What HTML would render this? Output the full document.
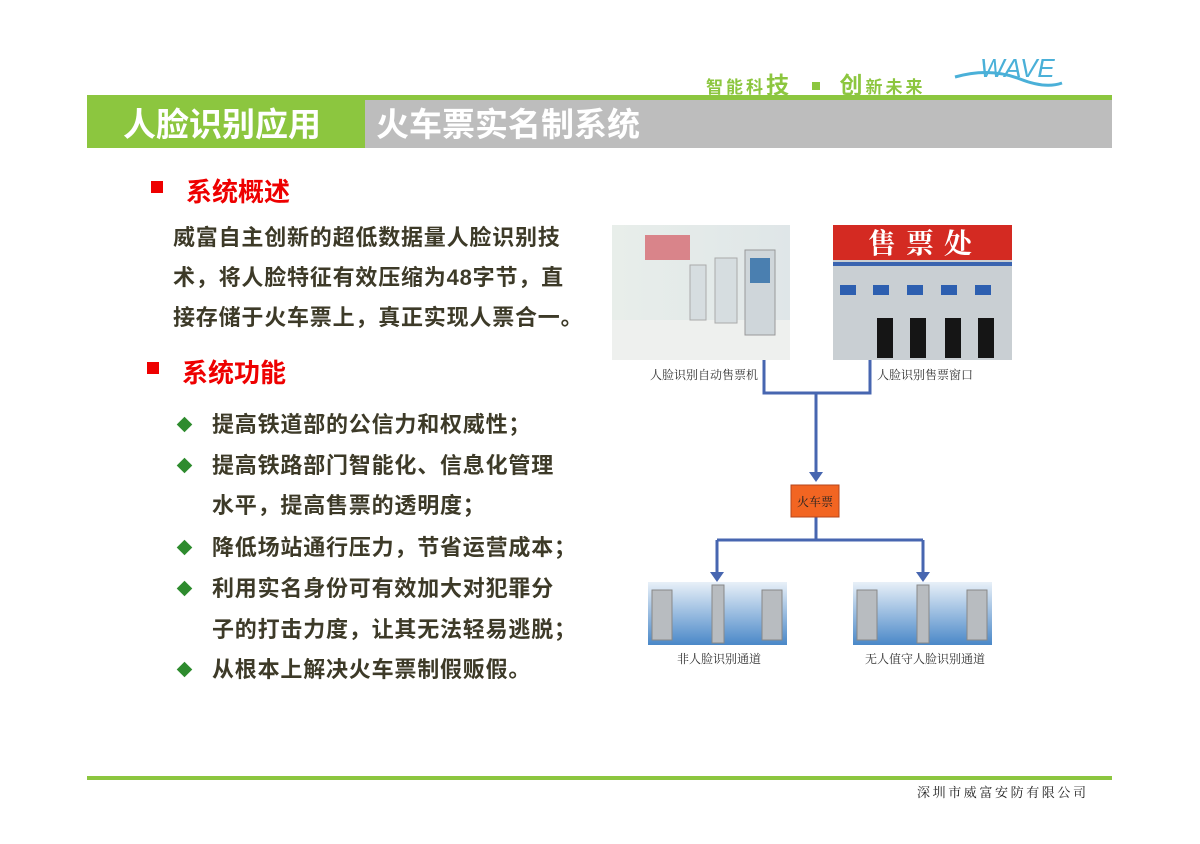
<!DOCTYPE html>
<html><head><meta charset="utf-8">
<style>
body{margin:0;width:1200px;height:844px;background:#fff;position:relative;overflow:hidden;font-family:"Liberation Sans","Noto Sans CJK SC","WenQuanYi Zen Hei",sans-serif}
.a{position:absolute;white-space:nowrap}
.t{color:#3d3a28;font-size:22px;font-weight:bold;line-height:26px;letter-spacing:0.8px}
.d{position:absolute;width:11px;height:11px;background:#2e8b2e;transform:rotate(45deg)}
.lab{position:absolute;font-family:"Noto Serif CJK SC",serif;font-size:12px;color:#333;white-space:nowrap}
</style></head><body>
<div class="a" style="left:706px;top:66px;color:#8cc63f;font-weight:bold;font-size:17px;letter-spacing:3px">智能科<span style="font-size:23px">技</span> <span style="display:inline-block;width:8px;height:8px;background:#8cc63f;margin:0 12px 3px"></span> <span style="font-size:23px">创</span>新未来</div>
<svg class="a" style="left:950px;top:55px" width="120" height="40"><path d="M5 22 Q40 12 70 24 Q95 34 112 28" stroke="#4ab0d8" stroke-width="3" fill="none"/><text x="30" y="22" font-family="Liberation Sans" font-style="italic" font-size="26" fill="#4ab0d8">WAVE</text></svg>
<div class="a" style="left:87px;top:95px;width:1025px;height:5px;background:#8cc63f"></div>
<div class="a" style="left:87px;top:100px;width:278px;height:48px;background:#8cc63f"></div>
<div class="a" style="left:365px;top:100px;width:747px;height:48px;background:#bdbdbd"></div>
<div class="a" style="left:123px;top:105px;color:#fff;font-size:33px;font-weight:bold;line-height:40px">人脸识别应用</div>
<div class="a" style="left:376px;top:105px;color:#fff;font-size:33px;font-weight:bold;line-height:40px">火车票实名制系统</div>
<div class="a" style="left:151px;top:181px;width:12px;height:12px;background:#e00"></div>
<div class="a" style="left:186px;top:172px;color:#e00;font-size:26px;font-weight:bold">系统概述</div>
<div class="a t" style="left:173px;top:225px">威富自主创新的超低数据量人脸识别技</div>
<div class="a t" style="left:173px;top:265px">术，将人脸特征有效压缩为48字节，直</div>
<div class="a t" style="left:173px;top:305px">接存储于火车票上，真正实现人票合一。</div>
<div class="a" style="left:147px;top:362px;width:12px;height:12px;background:#e00"></div>
<div class="a" style="left:182px;top:353px;color:#e00;font-size:26px;font-weight:bold">系统功能</div>
<div class="d" style="left:179px;top:419px"></div>
<div class="a t" style="left:212px;top:412px">提高铁道部的公信力和权威性；</div>
<div class="d" style="left:179px;top:460px"></div>
<div class="a t" style="left:212px;top:453px">提高铁路部门智能化、信息化管理</div>
<div class="a t" style="left:212px;top:493px">水平，提高售票的透明度；</div>
<div class="d" style="left:179px;top:542px"></div>
<div class="a t" style="left:212px;top:535px">降低场站通行压力，节省运营成本；</div>
<div class="d" style="left:179px;top:583px"></div>
<div class="a t" style="left:212px;top:576px">利用实名身份可有效加大对犯罪分</div>
<div class="a t" style="left:212px;top:617px">子的打击力度，让其无法轻易逃脱；</div>
<div class="d" style="left:179px;top:664px"></div>
<div class="a t" style="left:212px;top:657px">从根本上解决火车票制假贩假。</div>

<svg class="a" style="left:0;top:0" width="1200" height="844">
<defs><linearGradient id="g1" x1="0" y1="0" x2="1" y2="0"><stop offset="0" stop-color="#e8eeea"/><stop offset="1" stop-color="#dfe6e8"/></linearGradient>
<linearGradient id="g2" x1="0" y1="0" x2="0" y2="1"><stop offset="0" stop-color="#e8f0f8"/><stop offset="1" stop-color="#4a88c8"/></linearGradient></defs>
<rect x="612" y="225" width="178" height="135" fill="url(#g1)"/>
<rect x="612" y="320" width="178" height="40" fill="#eef0ee"/>
<rect x="745" y="250" width="30" height="85" fill="#cfd6da" stroke="#999"/>
<rect x="750" y="258" width="20" height="25" fill="#4a7fb0"/>
<rect x="715" y="258" width="22" height="65" fill="#d6dde0" stroke="#aaa"/>
<rect x="690" y="265" width="16" height="55" fill="#d6dde0" stroke="#aaa"/>
<rect x="645" y="235" width="45" height="25" fill="#d9848a"/>
<rect x="833" y="225" width="179" height="135" fill="#c9cfd3"/>
<rect x="833" y="225" width="179" height="35" fill="#d42a22"/>
<text x="868" y="253" font-size="28" font-weight="bold" fill="#fff" font-family="Noto Serif CJK SC,serif" letter-spacing="10">售票处</text>
<rect x="833" y="262" width="179" height="4" fill="#3a64b0"/>
<g fill="#2d5fb0"><rect x="840" y="285" width="16" height="10"/><rect x="873" y="285" width="16" height="10"/><rect x="907" y="285" width="16" height="10"/><rect x="941" y="285" width="16" height="10"/><rect x="975" y="285" width="16" height="10"/></g>
<g fill="#151515"><rect x="877" y="318" width="16" height="40"/><rect x="910" y="318" width="16" height="40"/><rect x="945" y="318" width="16" height="40"/><rect x="978" y="318" width="16" height="40"/></g>
<g stroke="#4766b0" stroke-width="3" fill="none">
<path d="M764 360V393H870V360"/><path d="M816 393V474"/>
<path d="M816 517V540M717 540H923M717 540V574M923 540V574"/>
</g>
<g fill="#4766b0"><path d="M809 472h14l-7 10z"/><path d="M710 572h14l-7 10z"/><path d="M916 572h14l-7 10z"/></g>
<rect x="791" y="485" width="48" height="32" fill="#f26522" stroke="#b5451b"/>
<text x="815" y="506" text-anchor="middle" font-size="12" font-family="Noto Serif CJK SC,serif" fill="#222">火车票</text>
<rect x="648" y="582" width="139" height="63" fill="url(#g2)"/>
<rect x="853" y="582" width="139" height="63" fill="url(#g2)"/>
<g fill="#b8bcc0" stroke="#888"><rect x="652" y="590" width="20" height="50"/><rect x="712" y="585" width="12" height="58"/><rect x="762" y="590" width="20" height="50"/><rect x="857" y="590" width="20" height="50"/><rect x="917" y="585" width="12" height="58"/><rect x="967" y="590" width="20" height="50"/></g>
</svg>
<div class="lab" style="left:650px;top:366px">人脸识别自动售票机</div>
<div class="lab" style="left:877px;top:366px">人脸识别售票窗口</div>
<div class="lab" style="left:677px;top:650px">非人脸识别通道</div>
<div class="lab" style="left:865px;top:650px">无人值守人脸识别通道</div>
<div class="a" style="left:87px;top:776px;width:1025px;height:4px;background:#8cc63f"></div>
<div class="a" style="left:917px;top:782px;font-family:'Noto Serif CJK SC',serif;font-size:13px;color:#222;letter-spacing:2.6px">深圳市威富安防有限公司</div>
</body></html>
